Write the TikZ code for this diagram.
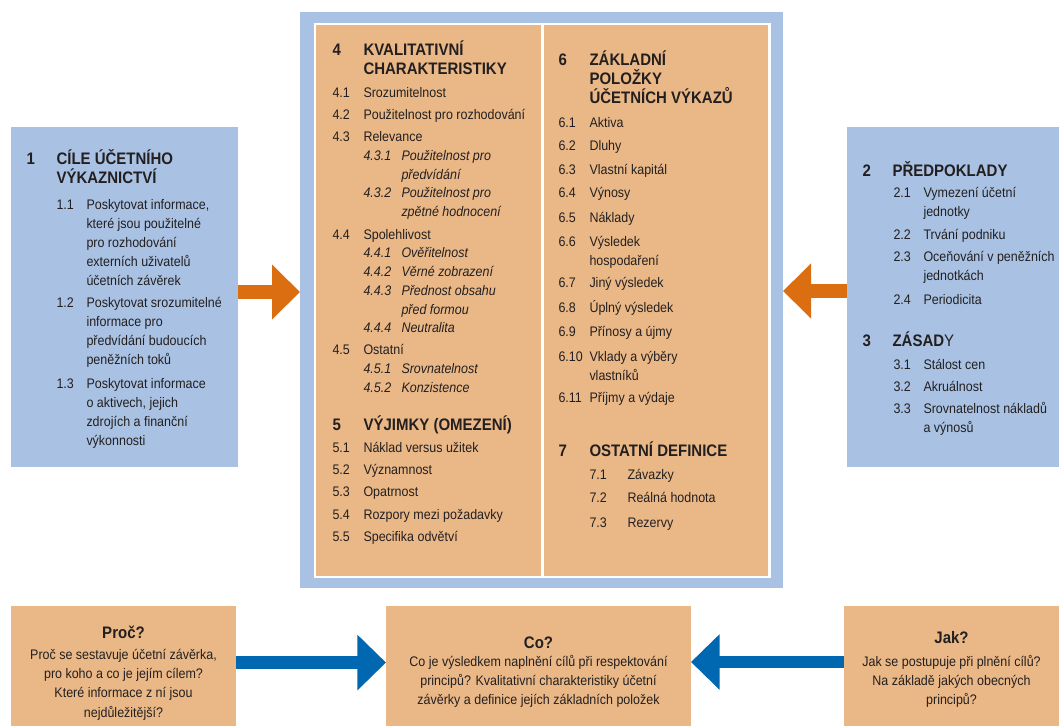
\documentclass[tikz,border=0pt]{standalone}
\usepackage{fontspec}
\setmainfont{Liberation Sans}[FakeStretch=0.9]
\usetikzlibrary{arrows.meta}

\definecolor{modra}{RGB}{169,194,227}
\definecolor{oranz}{RGB}{234,184,135}
\definecolor{sipkaor}{RGB}{219,110,16}
\definecolor{sipkamo}{RGB}{0,103,177}
\definecolor{tx}{RGB}{35,31,32}

% vice radku, uctiva se prvni radek, pevne rozestupy
\newcommand{\radky}[1]{\vtop{\let\\\cr\lineskiplimit=-\maxdimen\lineskip=0pt\halign{##\hfil\cr#1\crcr}}}
\newcommand{\radkyc}[1]{\vtop{\let\\\cr\lineskiplimit=-\maxdimen\lineskip=0pt\halign{\hfil##\hfil\cr#1\crcr}}}

\tikzset{every picture/.style={line width=0.75pt}}
\tikzset{
  plocha/.style={inner sep=0pt, outer sep=0pt, draw=none},
  txt/.style={anchor=base west, inner sep=0pt, text=tx, font=\fontsize{10.4}{14.25}\selectfont},
  podtxt/.style={txt, font=\fontsize{10.4}{14.25}\selectfont\itshape},
  hlav/.style={anchor=base west, inner sep=0pt, text=tx, font=\fontsize{12.5}{14.3}\selectfont\bfseries},
  otazka/.style={anchor=base, inner sep=0pt, text=tx, font=\fontsize{12.5}{14.5}\selectfont\bfseries},
  odpoved/.style={anchor=base, inner sep=0pt, text=tx, font=\fontsize{10.4}{14.4}\selectfont},
  sipkaO/.style={draw=sipkaor, line width=10pt, -{Triangle[length=21pt, width=40pt]}, color=sipkaor},
  sipkaM/.style={draw=sipkamo, line width=9.5pt, -{Triangle[length=21.5pt, width=40.5pt]}, color=sipkamo},
}

\begin{document}
\begin{tikzpicture}[x=0.75pt,y=0.75pt,yscale=-1,xscale=1]
\useasboundingbox (0,0) rectangle (1059,726);

%Shape: Rectangle [cile]
\node[plocha, fill=modra, minimum width=170.25pt, minimum height=255pt] (cile) at (124.5,297) {};
%Shape: Rectangle [predpoklady]
\node[plocha, fill=modra, minimum width=159pt, minimum height=255pt] (predp) at (953,297) {};
%Shape: Rectangle [ramec]
\node[plocha, fill=modra, minimum width=362.25pt, minimum height=432pt] (ramec) at (541.5,300) {};
\node[plocha, fill=white, minimum width=342.75pt, minimum height=416.25pt] (ramecin) at (542.5,300.5) {};
\node[plocha, fill=oranz, minimum width=168.75pt, minimum height=413.25pt] (levy) at (428.5,300.5) {};
\node[plocha, fill=oranz, minimum width=168pt, minimum height=413.25pt] (pravy) at (656,300.5) {};
%Shape: Rectangle [otazky]
\node[plocha, fill=oranz, minimum width=168.75pt, minimum height=90pt] (proc) at (123.5,666) {};
\node[plocha, fill=oranz, minimum width=228.75pt, minimum height=90pt] (co) at (538.5,666) {};
\node[plocha, fill=oranz, minimum width=161.25pt, minimum height=90pt] (jak) at (951.5,666) {};

%Arrows
\draw[sipkaO] ([yshift=-3.75pt]cile.east) -- ([yshift=-3.75pt]cile.east -| ramec.west);
\draw[sipkaO] ([yshift=-4.5pt]predp.west) -- ([yshift=-4.5pt]predp.west -| ramec.east);
\draw[sipkaM] ([yshift=-2.6pt]proc.east) -- ([yshift=-2.6pt]proc.east -| co.west);
\draw[sipkaM] ([yshift=-3pt]jak.west) -- ([yshift=-3pt]jak.west -| co.east);

% Text Node: 1
\draw (26,164) node [hlav] (c1) {1};
\draw (56,164) node [hlav] (c1h) {\radky{CÍLE ÚČETNÍHO\\VÝKAZNICTVÍ}};
\draw (56,209.5) node [txt] (c11) {1.1};
\draw (86,209.5) node [txt] (c11t) {\radky{Poskytovat informace,\\které jsou použitelné\\pro rozhodování\\externích uživatelů\\účetních závěrek}};
\draw (56,307.5) node [txt] (c12) {1.2};
\draw (86,307.5) node [txt] (c12t) {\radky{Poskytovat srozumitelné\\informace pro\\předvídání budoucích\\peněžních toků}};
\draw (56,388.5) node [txt] (c13) {1.3};
\draw (86,388.5) node [txt] (c13t) {\radky{Poskytovat informace\\o aktivech, jejich\\zdrojích a finanční\\výkonnosti}};

% Text Node: 2 a 3
\draw (862,176) node [hlav] (c2) {2};
\draw (892,176) node [hlav] (c2h) {PŘEDPOKLADY};
\draw (893,197.5) node [txt] (c21) {2.1};
\draw (923,197.5) node [txt] (c21t) {\radky{Vymezení účetní\\jednotky}};
\draw (893,239.5) node [txt] (c22) {2.2};
\draw (923,239.5) node [txt] (c22t) {Trvání podniku};
\draw (893,261.5) node [txt] (c23) {2.3};
\draw (923,261.5) node [txt] (c23t) {\radky{Oceňování v peněžních\\jednotkách}};
\draw (893,304.5) node [txt] (c24) {2.4};
\draw (923,304.5) node [txt] (c24t) {Periodicita};
\draw (862,346) node [hlav] (c3) {3};
\draw (892,346) node [hlav] (c3h) {ZÁSAD\mdseries Y};
\draw (893,369.5) node [txt] (c31) {3.1};
\draw (923,369.5) node [txt] (c31t) {Stálost cen};
\draw (893,391.5) node [txt] (c32) {3.2};
\draw (923,391.5) node [txt] (c32t) {Akruálnost};
\draw (893,413.5) node [txt] (c33) {3.3};
\draw (923,413.5) node [txt] (c33t) {\radky{Srovnatelnost nákladů\\a výnosů}};

% Text Node: 4 a 5
\draw (332,55) node [hlav] (c4) {4};
\draw (363,55) node [hlav] (c4h) {\radky{KVALITATIVNÍ\\CHARAKTERISTIKY}};
\draw (332,97.5) node [txt] (c41) {4.1};
\draw (363,97.5) node [txt] (c41t) {Srozumitelnost};
\draw (332,119.5) node [txt] (c42) {4.2};
\draw (363,119.5) node [txt] (c42t) {Použitelnost pro rozhodování};
\draw (332,141.5) node [txt] (c43) {4.3};
\draw (363,141.5) node [txt] (c43t) {Relevance};
\draw (363,160.5) node [podtxt] (c431) {4.3.1};
\draw (401,160.5) node [podtxt] (c431t) {\radky{Použitelnost pro\\předvídání}};
\draw (363,197.5) node [podtxt] (c432) {4.3.2};
\draw (401,197.5) node [podtxt] (c432t) {\radky{Použitelnost pro\\zpětné hodnocení}};
\draw (332,239.5) node [txt] (c44) {4.4};
\draw (363,239.5) node [txt] (c44t) {Spolehlivost};
\draw (363,257.5) node [podtxt] (c441) {4.4.1};
\draw (401,257.5) node [podtxt] (c441t) {Ověřitelnost};
\draw (363,276.5) node [podtxt] (c442) {4.4.2};
\draw (401,276.5) node [podtxt] (c442t) {Věrné zobrazení};
\draw (363,295.5) node [podtxt] (c443) {4.4.3};
\draw (401,295.5) node [podtxt] (c443t) {\radky{Přednost obsahu\\před formou}};
\draw (363,332.5) node [podtxt] (c444) {4.4.4};
\draw (401,332.5) node [podtxt] (c444t) {Neutralita};
\draw (332,354.5) node [txt] (c45) {4.5};
\draw (363,354.5) node [txt] (c45t) {Ostatní};
\draw (363,373.5) node [podtxt] (c451) {4.5.1};
\draw (401,373.5) node [podtxt] (c451t) {Srovnatelnost};
\draw (363,392.5) node [podtxt] (c452) {4.5.2};
\draw (401,392.5) node [podtxt] (c452t) {Konzistence};
\draw (332,430) node [hlav] (c5) {5};
\draw (363,430) node [hlav] (c5h) {VÝJIMKY (OMEZENÍ)};
\draw (332,452.5) node [txt] (c51) {5.1};
\draw (363,452.5) node [txt] (c51t) {Náklad versus užitek};
\draw (332,474.5) node [txt] (c52) {5.2};
\draw (363,474.5) node [txt] (c52t) {Významnost};
\draw (332,496.5) node [txt] (c53) {5.3};
\draw (363,496.5) node [txt] (c53t) {Opatrnost};
\draw (332,519.5) node [txt] (c54) {5.4};
\draw (363,519.5) node [txt] (c54t) {Rozpory mezi požadavky};
\draw (332,541.5) node [txt] (c55) {5.5};
\draw (363,541.5) node [txt] (c55t) {Specifika odvětví};

% Text Node: 6 a 7
\draw (558,65) node [hlav] (c6) {6};
\draw (589,65) node [hlav] (c6h) {\radky{ZÁKLADNÍ\\POLOŽKY\\ÚČETNÍCH VÝKAZŮ}};
\draw (558,127.5) node [txt] (c61) {6.1};
\draw (589,127.5) node [txt] (c61t) {Aktiva};
\draw (558,150.5) node [txt] (c62) {6.2};
\draw (589,150.5) node [txt] (c62t) {Dluhy};
\draw (558,174.5) node [txt] (c63) {6.3};
\draw (589,174.5) node [txt] (c63t) {Vlastní kapitál};
\draw (558,197.5) node [txt] (c64) {6.4};
\draw (589,197.5) node [txt] (c64t) {Výnosy};
\draw (558,222.5) node [txt] (c65) {6.5};
\draw (589,222.5) node [txt] (c65t) {Náklady};
\draw (558,246.5) node [txt] (c66) {6.6};
\draw (589,246.5) node [txt] (c66t) {\radky{Výsledek\\hospodaření}};
\draw (558,287.5) node [txt] (c67) {6.7};
\draw (589,287.5) node [txt] (c67t) {Jiný výsledek};
\draw (558,312.5) node [txt] (c68) {6.8};
\draw (589,312.5) node [txt] (c68t) {Úplný výsledek};
\draw (558,336.5) node [txt] (c69) {6.9};
\draw (589,336.5) node [txt] (c69t) {Přínosy a újmy};
\draw (558,361.5) node [txt] (c610) {6.10};
\draw (589,361.5) node [txt] (c610t) {\radky{Vklady a výběry\\vlastníků}};
\draw (558,402.5) node [txt] (c611) {6.11};
\draw (589,402.5) node [txt] (c611t) {Příjmy a výdaje};
\draw (558,456) node [hlav] (c7) {7};
\draw (589,456) node [hlav] (c7h) {OSTATNÍ DEFINICE};
\draw (589,479.5) node [txt] (c71) {7.1};
\draw (627,479.5) node [txt] (c71t) {Závazky};
\draw (589,502.5) node [txt] (c72) {7.2};
\draw (627,502.5) node [txt] (c72t) {Reálná hodnota};
\draw (589,527.5) node [txt] (c73) {7.3};
\draw (627,527.5) node [txt] (c73t) {Rezervy};

% Text Node: otazky
\draw (123.5,638) node [otazka] (proch) {Proč?};
\draw (123.5,659.5) node [odpoved] (proct) {\radkyc{Proč se sestavuje účetní závěrka,\\pro koho a co je jejím cílem?\\Které informace z ní jsou\\nejdůležitější?}};
\draw (538.5,648) node [otazka] (coh) {Co?};
\draw (538.5,666.5) node [odpoved] (cot) {\radkyc{Co je výsledkem naplnění cílů při respektování\\principů? Kvalitativní charakteristiky účetní\\závěrky a definice jejích základních položek}};
\draw (951.5,643) node [otazka] (jakh) {Jak?};
\draw (951.5,666.5) node [odpoved] (jakt) {\radkyc{Jak se postupuje při plnění cílů?\\Na základě jakých obecných\\principů?}};

\end{tikzpicture}
\end{document}
